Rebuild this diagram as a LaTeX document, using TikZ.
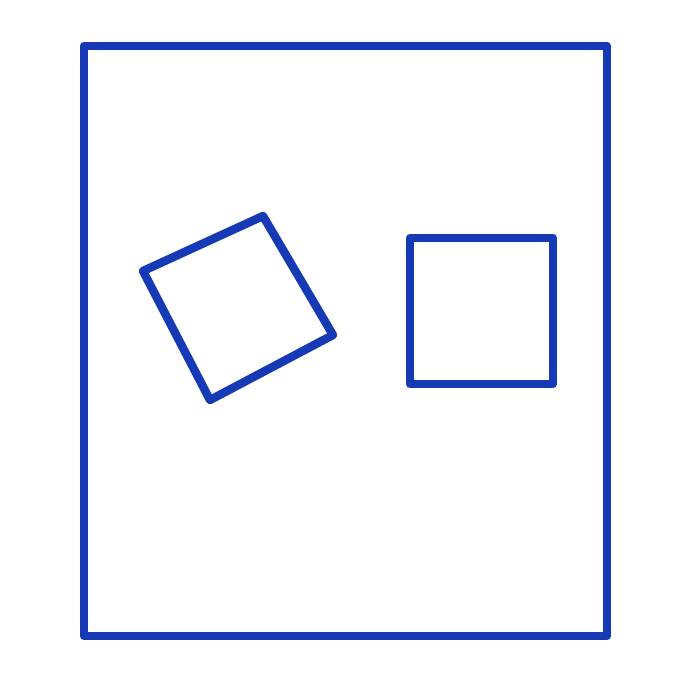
\documentclass[tikz,border=0pt]{standalone}
\usepackage{tikz}
\definecolor{inkblue}{RGB}{22, 58, 182}

\begin{document}
\begin{tikzpicture}[
    x=0.1mm, y=-0.1mm,
    outline/.style={draw=inkblue, line width=2.4pt, line join=round}
]
    \useasboundingbox (0,0) rectangle (686,686);

    % outer frame
    \draw[outline] (84,46) rectangle (607,636);

    % tilted square
    \draw[outline] (143,271) coordinate (tl) -- (263,216) coordinate (tt)
        -- (333,335) coordinate (tr) -- (210,400) coordinate (tb) -- cycle;

    % upright square
    \draw[outline] (410,238) rectangle (553,384);

\end{tikzpicture}
\end{document}
